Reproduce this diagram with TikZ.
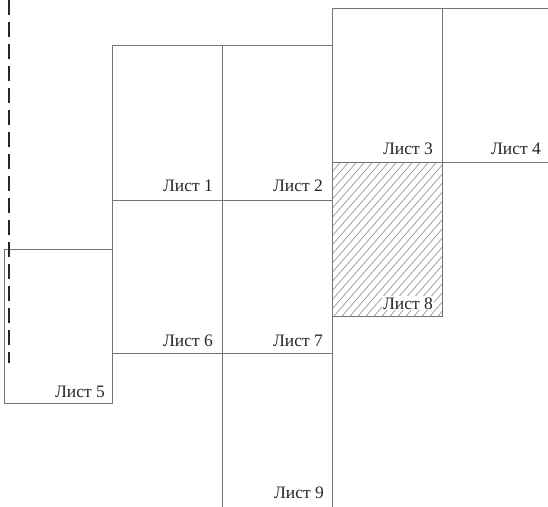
\documentclass[tikz,border=0pt]{standalone}
\usepackage{fontspec}
\setmainfont{Liberation Serif}
\definecolor{edge}{RGB}{115,115,115}
\definecolor{hatch}{RGB}{140,140,140}
\tikzset{
  sheet/.style={draw=edge, line width=0.9pt},
  lbl/.style={anchor=base east, inner sep=1pt, font=\fontsize{17.5}{20}\selectfont, text=black!85},
  cut/.style={draw=black!85, line width=1.8pt, dash pattern=on 15pt off 7pt}
}
\begin{document}
\begin{tikzpicture}[x=1pt,y=-1pt]
\useasboundingbox (0,0) rectangle (548,506);
% hatching of sheet 8
\begin{scope}
  \clip (332,162) rectangle (442,316);
  \foreach \i in {0,8,...,280} {
    \draw[hatch, line width=0.6pt] (190+\i,316) -- ++(140,-160);
  }
\end{scope}
% sheets
\draw[sheet] (112,45) rectangle (222,200);
\draw[sheet] (222,45) rectangle (332,200);
\draw[sheet] (332,8) rectangle (442,162);
\draw[sheet] (442,8) -- (550,8);
\draw[sheet] (442,162) -- (550,162);
\draw[sheet] (332,162) rectangle (442,316);
\draw[sheet] (112,200) rectangle (222,353);
\draw[sheet] (222,200) rectangle (332,353);
\draw[sheet] (4,249) rectangle (112,403);
\draw[sheet] (222,353) -- (222,510);
\draw[sheet] (332,353) -- (332,510);
% labels
\node[lbl] (l1) at (214,191) {Лист 1};
\node[lbl] (l2) at (324,191) {Лист 2};
\node[lbl] (l3) at (434,154) {Лист 3};
\node[lbl] (l4) at (542,154) {Лист 4};
\node[lbl] (l5) at (106,397) {Лист 5};
\node[lbl] (l6) at (214,346) {Лист 6};
\node[lbl] (l7) at (324,346) {Лист 7};
\node[lbl, fill=white] (l8) at (434,309) {Лист 8};
\node[lbl] (l9) at (325,498) {Лист 9};
% cut line
\coordinate (c1) at (9,0);
\coordinate (c2) at (9,363);
\draw[cut] (c1) -- (c2);
\end{tikzpicture}
\end{document}
